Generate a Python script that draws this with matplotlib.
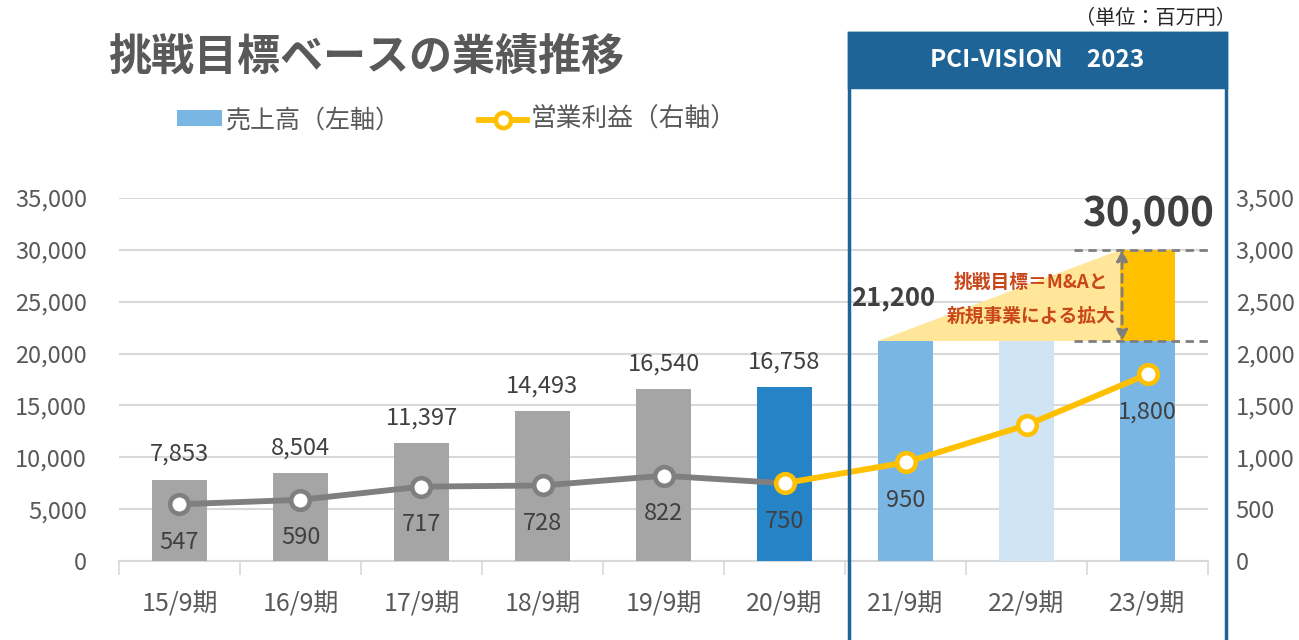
import matplotlib
matplotlib.use("Agg")
import matplotlib.pyplot as plt
import matplotlib.patches as patches
from matplotlib.ticker import FuncFormatter, FixedLocator
import numpy as np

plt.rcParams['font.family'] = ['Noto Sans CJK JP', 'DejaVu Sans']

periods = ["15/9期", "16/9期", "17/9期", "18/9期", "19/9期", "20/9期", "21/9期", "22/9期", "23/9期"]
sales = [7853, 8504, 11397, 14493, 16540, 16758, 21200, 21200, 21200]
sales_target = 30000
profit = [547, 590, 717, 728, 822, 750, 950, 1310, 1800]
bar_colors = ["#A5A5A5"] * 5 + ["#2683C6", "#7AB6E4", "#CFE4F4", "#7AB6E4"]

TXT = "#404040"
GRID = "#D9D9D9"
W, H = 1299, 640

fig = plt.figure(figsize=(W / 100, H / 100), dpi=100)
ax = fig.add_axes([119 / W, (H - 561) / H, (1208 - 119) / W, (561 - 198) / H])
ax2 = ax.twinx()

x = np.arange(len(periods))
bw = 0.46

# sales bars
ax.bar(x, sales, width=bw, color=bar_colors, zorder=3)
# challenge part of the 23/9 bar
ax.bar(x[-1], sales_target - sales[-1], bottom=sales[-1], width=bw, color="#FFC000", zorder=3)

# growth triangle
x0 = x[6] - bw / 2
x1 = x[8] - bw / 2
tri = patches.Polygon([[x0, sales[6]], [x1, sales[6]], [x1, sales_target]],
                      closed=True, facecolor="#FFE699", edgecolor="none", zorder=2)
ax.add_patch(tri)

# dashed guides
for yv in (sales_target, sales[-1]):
    ax.plot([x[8] - 0.61, x[8] + 0.5], [yv, yv], color="#7F7F7F", lw=2,
            ls=(0, (3, 2)), zorder=4, clip_on=False)
ax.annotate("", xy=(x1 + 0.02, sales_target), xytext=(x1 + 0.02, sales[-1]),
            arrowprops=dict(arrowstyle="<|-|>", color="#7F7F7F", lw=2,
                            ls=(0, (3, 2)), mutation_scale=16, shrinkA=0, shrinkB=0),
            zorder=5)

# bar value labels
for i in range(6):
    ax.annotate(f"{sales[i]:,}", (x[i], sales[i]), xytext=(0, 25), textcoords="offset pixels",
                ha="center", va="center", fontsize=17, color=TXT, zorder=6)
ax.annotate(f"{sales[6]:,}", (x[6], sales[6]), xytext=(-12, 43), textcoords="offset pixels",
            ha="center", va="center", fontsize=18.5, fontweight="bold", color=TXT, zorder=6)
ax.annotate(f"{sales_target:,}", (x[8], sales_target), xytext=(0, 35), textcoords="offset pixels",
            ha="center", va="center", fontsize=29, fontweight="bold", color=TXT, zorder=6)
ax.text(x1 - 0.73, 26900, "挑戦目標＝M&Aと", ha="center", va="center", fontsize=13.5,
        fontweight="bold", color="#C9461A", zorder=6)
ax.text(x1 - 0.73, 23600, "新規事業による拡大", ha="center", va="center", fontsize=13.5,
        fontweight="bold", color="#C9461A", zorder=6)

ax.set_xlim(-0.5, len(periods) - 0.5)
ax.set_ylim(0, 35000)
ax.set_yticks(np.arange(0, 35001, 5000))
ax.yaxis.set_major_formatter(FuncFormatter(lambda v, p: f"{int(v):,}"))
ax.grid(axis="y", color=GRID, lw=1.5, zorder=0)
ax.set_axisbelow(True)
ax.set_xticks(x)
ax.set_xticklabels(periods)
ax.xaxis.set_minor_locator(FixedLocator(np.arange(-0.5, len(periods), 1)))
ax.tick_params(axis="x", which="major", length=0, pad=22, labelsize=18, labelcolor="#595959")
ax.tick_params(axis="x", which="minor", length=10, color=GRID, width=1.2)
ax.tick_params(axis="y", length=0, pad=23, labelsize=17, labelcolor="#595959")
for s in ("top", "left", "right"):
    ax.spines[s].set_visible(False)
ax.spines["bottom"].set_color(GRID)
ax.spines["bottom"].set_linewidth(1.5)

# operating profit line
ax2.plot(x[:6], profit[:6], color="#7F7F7F", lw=4.2, zorder=3)
ax2.plot(x[5:], profit[5:], color="#FFC000", lw=4.2, zorder=3)
ax2.scatter(x[:5], profit[:5], s=180, facecolor="white", edgecolor="#7F7F7F", lw=3.3, zorder=4)
ax2.scatter(x[5:], profit[5:], s=180, facecolor="white", edgecolor="#FFC000", lw=3.3, zorder=4)
for i in list(range(7)) + [8]:
    ax2.annotate(f"{profit[i]:,}", (x[i], profit[i]), xytext=(0, -38), textcoords="offset pixels",
                 ha="center", va="center", fontsize=17, color=TXT, zorder=6)
ax2.set_ylim(0, 3500)
ax2.set_yticks(np.arange(0, 3501, 500))
ax2.yaxis.set_major_formatter(FuncFormatter(lambda v, p: f"{int(v):,}"))
ax2.tick_params(axis="y", length=0, pad=20, labelsize=17, labelcolor="#595959")
for s in ("top", "left", "right", "bottom"):
    ax2.spines[s].set_visible(False)

# title, legend, unit
fig.text(108 / W, 1 - 57 / H, "挑戦目標ベースの業績推移", fontsize=31, fontweight="bold",
         color="#595959", ha="left", va="center")
fig.patches.append(patches.Rectangle((177 / W, 1 - 126 / H), 45 / W, 16 / H,
                                     transform=fig.transFigure, facecolor="#7AB6E4"))
fig.text(226 / W, 1 - 120 / H, "売上高（左軸）", fontsize=18, color="#595959", va="center")
fig.lines.append(plt.Line2D([479 / W, 527 / W], [1 - 120 / H, 1 - 120 / H], transform=fig.transFigure,
                            color="#FFC000", lw=4.2))
fig.lines.append(plt.Line2D([503 / W], [1 - 120 / H], transform=fig.transFigure, marker="o",
                            ms=11, mfc="white", mec="#FFC000", mew=3.3, ls="none"))
fig.text(531 / W, 1 - 120 / H, "営業利益（右軸）", fontsize=18.5, color="#595959", va="center")
fig.text(1236 / W, 1 - 19 / H, "（単位：百万円）", fontsize=14.5, color="#262626", ha="right", va="center")

# PCI-VISION 2023 box
box_c = "#1F6496"
fig.patches.append(patches.Rectangle((849 / W, -0.05), (1226 - 849) / W, 1 - 33 / H + 0.05,
                                     transform=fig.transFigure, facecolor="none",
                                     edgecolor=box_c, lw=2.5, zorder=10))
fig.patches.append(patches.Rectangle((849 / W, 1 - 87 / H), (1226 - 849) / W, 54 / H,
                                     transform=fig.transFigure, facecolor=box_c,
                                     edgecolor=box_c, lw=2.5, zorder=10))
fig.text(1037 / W, 1 - 60 / H, "PCI-VISION　2023", fontsize=17.5, fontweight="bold", color="white",
         ha="center", va="center", zorder=11)

fig.savefig("out.png", dpi=100, facecolor="white")
